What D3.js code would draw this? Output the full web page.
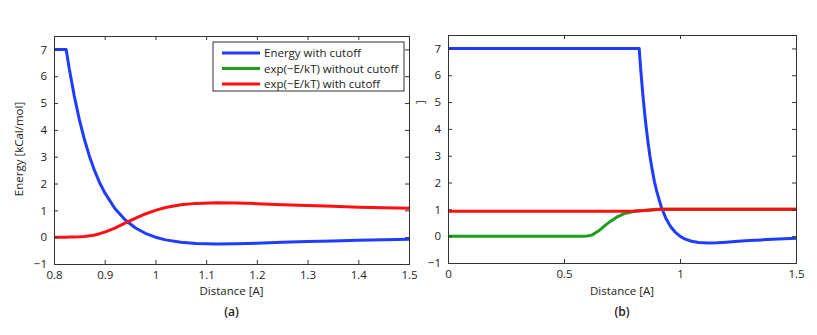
<!DOCTYPE html>
<html>
<head>
<meta charset="utf-8">
<script src="https://cdn.jsdelivr.net/npm/d3@7"></script>
<style>
  body { margin: 0; background: #fff; }
  text { font-family: 'Open Sans', 'Liberation Sans', sans-serif; fill: #222; }
</style>
</head>
<body>
<svg class="chart" width="817" height="335"></svg>
<script>
// values
const distA = [0.8, 0.81, 0.82, 0.824, 0.83, 0.84, 0.85, 0.86, 0.87, 0.88, 0.89, 0.9, 0.92, 0.94, 0.96, 0.98,
               1.0, 1.02, 1.05, 1.08, 1.12, 1.16, 1.2, 1.25, 1.3, 1.35, 1.4, 1.45, 1.5];
const energyA = [7, 7, 7, 7, 6.29, 5.26, 4.38, 3.64, 3.01, 2.48, 2.03, 1.66, 1.07, 0.65, 0.35, 0.145,
                 0, -0.10, -0.19, -0.233, -0.25, -0.242, -0.223, -0.193, -0.164, -0.138, -0.115, -0.096, -0.08];
const expCutA = [0.001, 0.001, 0.001, 0.001, 0.002, 0.005, 0.0125, 0.026, 0.049, 0.084, 0.13, 0.19, 0.34, 0.52, 0.70, 0.865,
                 1.0, 1.105, 1.21, 1.26, 1.28, 1.27, 1.25, 1.21, 1.18, 1.15, 1.12, 1.10, 1.08];

const distB = [0, 0.824, 0.83, 0.84, 0.85, 0.86, 0.87, 0.88, 0.89, 0.9, 0.92, 0.94, 0.96, 0.98,
               1.0, 1.02, 1.05, 1.08, 1.12, 1.16, 1.2, 1.25, 1.3, 1.35, 1.4, 1.45, 1.5];
const energyB = [7, 7, 6.29, 5.26, 4.38, 3.64, 3.01, 2.48, 2.03, 1.66, 1.07, 0.65, 0.35, 0.145,
                 0, -0.10, -0.19, -0.233, -0.25, -0.242, -0.223, -0.193, -0.164, -0.138, -0.115, -0.096, -0.08];
const distGreenB = [0, 0.58, 0.6, 0.62, 0.65, 0.68, 0.7, 0.73, 0.76, 0.8, 0.85, 0.9, 1.0, 1.5];
const expNoCutB = [0, 0, 0.005, 0.04, 0.2, 0.42, 0.55, 0.72, 0.84, 0.92, 0.97, 1.0, 1.0, 1.0];
const distRedB = [0, 0.75, 0.8, 0.85, 0.88, 0.92, 1.0, 1.5];
const expCutB = [0.93, 0.93, 0.935, 0.96, 0.98, 1.0, 1.0, 1.0];

const legendLabels = ['Energy with cutoff', 'exp(\u2212E/kT) without cutoff', 'exp(\u2212E/kT) with cutoff'];
const colors = ['#1f3cff', '#1e9e1e', '#ff1010'];

const svg = d3.select('svg.chart');

function panel(opts) {
  const x = d3.scaleLinear().domain(opts.xDomain).range([opts.left, opts.right]);
  const y = d3.scaleLinear().domain([-1, 7.5]).range([opts.bottom, opts.top]);
  const g = svg.append('g');

  const line = d3.line().x(d => x(d[0])).y(d => y(d[1]));
  g.append('clipPath').attr('id', opts.id)
    .append('rect')
    .attr('x', opts.left).attr('y', opts.top)
    .attr('width', opts.right - opts.left).attr('height', opts.bottom - opts.top);

  opts.series.forEach(s => {
    g.append('path')
      .datum(d3.zip(s.x, s.y))
      .attr('d', line)
      .attr('clip-path', `url(#${opts.id})`)
      .style('fill', 'none')
      .style('stroke', s.color)
      .style('stroke-width', 3)
      .style('stroke-linejoin', 'round');
  });

  // inward ticks on all four sides, MATLAB style
  const tickLen = 4;
  const fmt = d => String(d);
  g.append('g').attr('transform', `translate(0,${opts.bottom})`)
    .call(d3.axisBottom(x).tickValues(opts.xTicks).tickSize(-tickLen).tickPadding(7).tickFormat(fmt));
  g.append('g').attr('transform', `translate(0,${opts.top})`)
    .call(d3.axisTop(x).tickValues(opts.xTicks).tickSize(-tickLen).tickFormat(''));
  g.append('g').attr('transform', `translate(${opts.left},0)`)
    .call(d3.axisLeft(y).tickValues(d3.range(-1, 8)).tickSize(-tickLen).tickPadding(7)
      .tickFormat(d => d < 0 ? '\u2212' + Math.abs(d) : d));
  g.append('g').attr('transform', `translate(${opts.right},0)`)
    .call(d3.axisRight(y).tickValues(d3.range(-1, 8)).tickSize(-tickLen).tickFormat(''));

  g.selectAll('.domain').style('stroke', '#333').style('stroke-width', 1);
  g.selectAll('.tick line').style('stroke', '#333');
  g.selectAll('.tick text').style('font-size', '11.5px').style('fill', '#222')
    .style('font-family', "'Open Sans', sans-serif");

  g.append('text')
    .text('Distance [A]')
    .attr('x', (opts.left + opts.right) / 2)
    .attr('y', 295)
    .style('text-anchor', 'middle')
    .style('font-size', '11.5px');

  g.append('text')
    .text(opts.caption)
    .attr('x', (opts.left + opts.right) / 2)
    .attr('y', 316)
    .style('text-anchor', 'middle')
    .style('font-size', '12px')
    .style('font-weight', 600);

  return {x, y, g};
}

const a = panel({
  id: 'clipA', xDomain: [0.8, 1.5], left: 54, right: 409, top: 36, bottom: 264,
  xTicks: [0.8, 0.9, 1.0, 1.1, 1.2, 1.3, 1.4, 1.5], caption: '(a)',
  series: [
    {x: distA, y: energyA, color: colors[0]},
    {x: distA, y: expCutA, color: colors[2]}
  ]
});

const b = panel({
  id: 'clipB', xDomain: [0, 1.5], left: 448, right: 796, top: 35, bottom: 263,
  xTicks: [0, 0.5, 1, 1.5], caption: '(b)',
  series: [
    {x: distB, y: energyB, color: colors[0]},
    {x: distGreenB, y: expNoCutB, color: colors[1]},
    {x: distRedB, y: expCutB, color: colors[2]}
  ]
});

// y axis titles
svg.append('text')
  .text('Energy [kCal/mol]')
  .attr('transform', 'translate(23,149) rotate(-90)')
  .style('text-anchor', 'middle')
  .style('font-size', '11.5px');

svg.append('text')
  .text(']')
  .attr('transform', 'translate(424,102) rotate(-90)')
  .style('text-anchor', 'middle')
  .style('font-size', '11.5px');

// legend
const legend = svg.append('g').attr('transform', 'translate(213,42)');
legend.append('rect')
  .attr('width', 191).attr('height', 49)
  .style('fill', '#fff').style('stroke', '#333').style('stroke-width', 1);

legend.selectAll('g.item')
  .data(legendLabels)
  .enter()
  .append('g')
  .attr('class', 'item')
  .attr('transform', (d, i) => `translate(0,${11 + i * 15.5})`)
  .each(function (d, i) {
    const item = d3.select(this);
    item.append('line')
      .attr('x1', 9).attr('x2', 47).attr('y1', 0).attr('y2', 0)
      .style('stroke', colors[i]).style('stroke-width', 3);
    item.append('text')
      .text(d)
      .attr('x', 51).attr('y', 4)
      .style('font-size', '11.5px');
  });
</script>
</body>
</html>
